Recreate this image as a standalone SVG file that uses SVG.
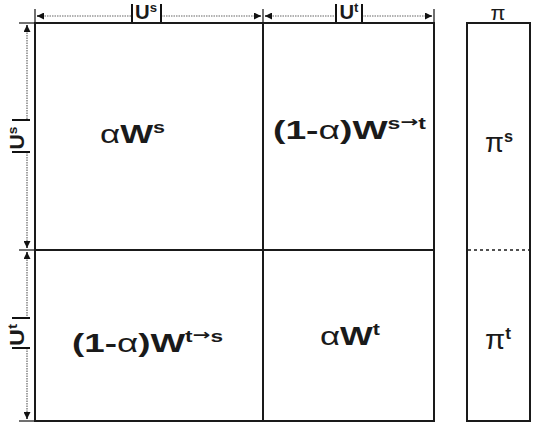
<svg xmlns="http://www.w3.org/2000/svg" width="534" height="425" viewBox="0 0 534 425">
  <defs>
    <marker id="ah" viewBox="0 0 8 8" refX="8" refY="4" markerWidth="7" markerHeight="7" markerUnits="userSpaceOnUse" orient="auto-start-reverse">
      <path d="M0,0 L8,4 L0,8 Z" fill="#111"/>
    </marker>
    <style>
      .box { fill: #fff; stroke: #1a1a1a; stroke-width: 2; }
      .split { stroke: #1a1a1a; stroke-width: 2; fill: none; }
      .dash { stroke: #1a1a1a; stroke-width: 1.3; stroke-dasharray: 3 3; fill: none; }
      .dim { stroke: #666; stroke-width: 1.2; stroke-dasharray: 1.5 1; fill: none; }
      .tick { stroke: #222; stroke-width: 1.3; fill: none; }
      .bar { stroke: #111; stroke-width: 2; fill: none; }
      .lbl { font-family: "Liberation Sans", Arial, sans-serif; fill: #1a1a1a; }
      .b { font-weight: bold; }
      .n { font-weight: normal; }
      .cell { font-size: 26px; }
      .sup { font-size: 16px; font-weight: bold; }
      .arr { font-family: "DejaVu Sans", sans-serif; font-size: 15px; }
      .dimtxt { font-size: 20px; font-weight: bold; }
      .dimsup { font-size: 13px; }
    </style>
  </defs>

  <!-- dimension lines -->
  <g id="connectors">
    <!-- horizontal extent ticks -->
    <line class="tick" x1="35" y1="9" x2="35" y2="23"/>
    <line class="tick" x1="263" y1="9" x2="263" y2="23"/>
    <line class="tick" x1="434" y1="9" x2="434" y2="23"/>
    <line class="dim" x1="37" y1="16" x2="132" y2="16"/>
    <line class="dim" x1="161" y1="16" x2="261" y2="16"/>
    <line class="dim" x1="265" y1="16" x2="336" y2="16"/>
    <line class="dim" x1="362" y1="16" x2="432" y2="16"/>
    <line class="tick" x1="37" y1="16" x2="44" y2="16" marker-start="url(#ah)"/>
    <line class="tick" x1="254" y1="16" x2="261" y2="16" marker-end="url(#ah)"/>
    <line class="tick" x1="265" y1="16" x2="272" y2="16" marker-start="url(#ah)"/>
    <line class="tick" x1="425" y1="16" x2="432" y2="16" marker-end="url(#ah)"/>
    <!-- vertical extent ticks -->
    <line class="tick" x1="19" y1="23" x2="35" y2="23"/>
    <line class="tick" x1="19" y1="250" x2="35" y2="250"/>
    <line class="tick" x1="19" y1="421" x2="35" y2="421"/>
    <line class="dim" x1="27" y1="25" x2="27" y2="120"/>
    <line class="dim" x1="27" y1="152" x2="27" y2="248"/>
    <line class="dim" x1="27" y1="252" x2="27" y2="318"/>
    <line class="dim" x1="27" y1="348" x2="27" y2="419"/>
    <line class="tick" x1="27" y1="25" x2="27" y2="32" marker-start="url(#ah)"/>
    <line class="tick" x1="27" y1="241" x2="27" y2="248" marker-end="url(#ah)"/>
    <line class="tick" x1="27" y1="252" x2="27" y2="259" marker-start="url(#ah)"/>
    <line class="tick" x1="27" y1="412" x2="27" y2="419" marker-end="url(#ah)"/>
  </g>

  <!-- dimension labels -->
  <g id="dim-us-top">
    <line class="bar" x1="132" y1="4" x2="132" y2="22"/>
    <line class="bar" x1="161" y1="4" x2="161" y2="22"/>
    <text class="lbl dimtxt" x="135" y="18.5" textLength="22" lengthAdjust="spacingAndGlyphs">U<tspan class="dimsup" dy="-7">s</tspan></text>
  </g>
  <g id="dim-ut-top">
    <line class="bar" x1="336" y1="4" x2="336" y2="22"/>
    <line class="bar" x1="362" y1="4" x2="362" y2="22"/>
    <text class="lbl dimtxt" x="339.5" y="18.5" textLength="19" lengthAdjust="spacingAndGlyphs">U<tspan class="dimsup" dy="-7">t</tspan></text>
  </g>
  <g id="dim-us-left">
    <line class="bar" x1="12" y1="120" x2="30" y2="120"/>
    <line class="bar" x1="12" y1="152" x2="30" y2="152"/>
    <text class="lbl dimtxt" transform="translate(24,149.5) rotate(-90)" textLength="23" lengthAdjust="spacingAndGlyphs">U<tspan class="dimsup" dy="-7">s</tspan></text>
  </g>
  <g id="dim-ut-left">
    <line class="bar" x1="12" y1="318" x2="30" y2="318"/>
    <line class="bar" x1="12" y1="348" x2="30" y2="348"/>
    <text class="lbl dimtxt" transform="translate(24,346) rotate(-90)" textLength="22" lengthAdjust="spacingAndGlyphs">U<tspan class="dimsup" dy="-7">t</tspan></text>
  </g>

  <!-- weight matrix -->
  <g id="matrix">
    <rect class="box" x="35" y="23" width="399" height="398"/>
    <line class="split" x1="263" y1="23" x2="263" y2="421"/>
    <line class="split" x1="35" y1="250" x2="434" y2="250"/>
  </g>
  <g id="cell-ss">
    <text class="lbl cell" x="100" y="143" textLength="65" lengthAdjust="spacingAndGlyphs">α<tspan class="b">W</tspan><tspan class="sup" dy="-10">s</tspan></text>
  </g>
  <g id="cell-st">
    <text class="lbl cell b" x="273" y="139" textLength="153" lengthAdjust="spacingAndGlyphs">(1-<tspan class="n">α</tspan>)W<tspan class="sup" dy="-10">s</tspan><tspan class="arr" dy="-2">→</tspan><tspan class="sup" dy="2">t</tspan></text>
  </g>
  <g id="cell-ts">
    <text class="lbl cell b" x="72" y="352" textLength="151" lengthAdjust="spacingAndGlyphs">(1-<tspan class="n">α</tspan>)W<tspan class="sup" dy="-10">t</tspan><tspan class="arr" dy="-2">→</tspan><tspan class="sup" dy="2">s</tspan></text>
  </g>
  <g id="cell-tt">
    <text class="lbl cell" x="320" y="345" textLength="60" lengthAdjust="spacingAndGlyphs">α<tspan class="b">W</tspan><tspan class="sup" dy="-10">t</tspan></text>
  </g>

  <!-- stationary distribution vector -->
  <g id="pi">
    <text class="lbl" x="490.5" y="19.5" font-size="21" textLength="15" lengthAdjust="spacingAndGlyphs">π</text>
    <rect class="box" x="467" y="23" width="63" height="398"/>
    <line class="dash" x1="468" y1="250" x2="529" y2="250"/>
    <text class="lbl" x="485" y="152" font-size="27" textLength="28" lengthAdjust="spacingAndGlyphs">π<tspan class="sup" dy="-10">s</tspan></text>
    <text class="lbl" x="485" y="349" font-size="27" textLength="26" lengthAdjust="spacingAndGlyphs">π<tspan class="sup" dy="-10">t</tspan></text>
  </g>
</svg>
